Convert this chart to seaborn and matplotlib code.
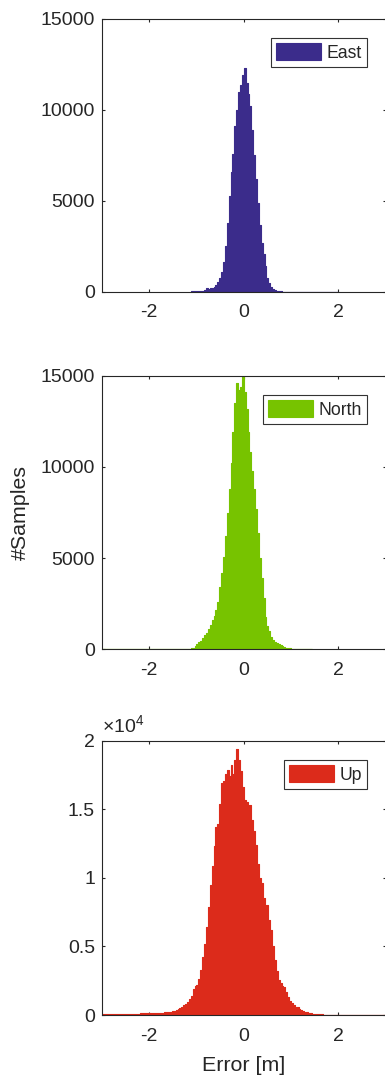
import numpy as np
import pandas as pd
import matplotlib
matplotlib.use("Agg")
import matplotlib.pyplot as plt
from matplotlib.ticker import FuncFormatter
import seaborn as sns

# histogram bin counts (0.04 m bins in the core,
# a few wide bins for the flat tails)
bin_width = 0.04

east_start = -1.12
east_counts = [30, 50, 50, 60, 60, 70, 80, 130, 220, 180, 200, 230, 280, 380,
               550, 780, 1100, 1620, 2500, 3800, 5300, 6600, 7600, 9100, 10000,
               11000, 11400, 11900, 12300, 11500, 10900, 10200, 8900, 7500,
               6200, 4900, 3700, 2700, 2100, 1400, 750, 480, 300, 180, 130, 80,
               60, 40]
east_left_edges, east_left_counts = [], []
east_right_edges, east_right_counts = [2.0], [20]

north_start = -1.16
north_counts = [30, 60, 100, 180, 280, 380, 480, 600, 760, 900, 1100, 1330,
                1600, 1850, 2150, 2600, 3400, 4200, 5070, 6200, 7500, 8800,
                10200, 11900, 13500, 14600, 14200, 14400, 15000, 14100, 13200,
                11900, 10800, 9800, 8800, 7700, 6400, 5000, 3900, 2800, 1800,
                1300, 1000, 700, 530, 420, 330, 270, 230, 170, 120, 90, 70, 50]
north_left_edges, north_left_counts = [-3.0], [10]
north_right_edges, north_right_counts = [1.44], [20]

up_start = -1.80
up_counts = [170, 180, 180, 190, 200, 210, 230, 270, 320, 380, 450, 530, 620,
             700, 800, 950, 1150, 1400, 1900, 2100, 2200, 2600, 3300, 4200,
             5200, 6400, 7900, 9500, 10900, 12300, 13700, 13900, 15400, 16900,
             17100, 17600, 17900, 17400, 18200, 17600, 18600, 19400, 18600,
             17800, 16600,
             15700, 15500, 15000, 15300, 14200, 13400, 12400, 11000, 10000,
             9600, 8500, 7900, 8000, 6900, 6200, 5000, 4000, 3200, 2550, 2300,
             2150, 2050, 1700, 1330, 1050, 850, 720, 620, 560, 450, 370, 300,
             250, 200, 170, 130, 100, 80, 65, 50, 45, 40, 35, 30, 25]
up_left_edges, up_left_counts = [-3.0, -2.6, -2.2], [60, 100, 150]
up_right_edges, up_right_counts = [3.0], [15]

names = ["East", "North", "Up"]
colors = ["#3b2c8b", "#77c300", "#dc2b1b"]


def build(start, counts, left_edges, left_counts, right_edges, right_counts):
    core = start + bin_width * np.arange(len(counts) + 1)
    edges = np.concatenate([left_edges, core, right_edges])
    weights = np.array(left_counts + counts + right_counts, dtype=float)
    centers = (edges[:-1] + edges[1:]) / 2
    return edges.tolist(), pd.DataFrame({"err": centers, "n": weights})


series = [
    build(east_start, east_counts, east_left_edges, east_left_counts,
          east_right_edges, east_right_counts),
    build(north_start, north_counts, north_left_edges, north_left_counts,
          north_right_edges, north_right_counts),
    build(up_start, up_counts, up_left_edges, up_left_counts,
          up_right_edges, up_right_counts),
]

sns.set_theme(style="ticks")
plt.rcParams["font.family"] = ["Liberation Sans", "DejaVu Sans"]
plt.rcParams["mathtext.fontset"] = "custom"
plt.rcParams["mathtext.rm"] = "Liberation Sans"
plt.rcParams["axes.unicode_minus"] = False
dark = "#262626"
plt.rcParams["text.color"] = dark
plt.rcParams["axes.labelcolor"] = dark

fig = plt.figure(figsize=(3.85, 10.79), dpi=100)
boxes = [
    [0.2649, 0.7294, 0.7364, 0.2530],
    [0.2649, 0.3982, 0.7364, 0.2536],
    [0.2649, 0.0593, 0.7364, 0.2542],
]
ylims = [15000, 15000, 20000]

for i, (box, (edges, df)) in enumerate(zip(boxes, series)):
    ax = fig.add_axes(box)
    sns.histplot(data=df, x="err", weights="n", bins=edges, element="step",
                 fill=True, color=colors[i], edgecolor=colors[i], alpha=1,
                 linewidth=0.8, ax=ax, label=names[i])
    ax.set_xlim(-3, 3)
    ax.set_ylim(0, ylims[i])
    ax.set_xticks([-2, 0, 2])
    if i < 2:
        ax.set_yticks([0, 5000, 10000, 15000])
    else:
        ax.set_yticks([0, 5000, 10000, 15000, 20000])
        ax.yaxis.set_major_formatter(FuncFormatter(lambda v, p: f"{v / 1e4:g}"))
        ax.text(0.0, 1.012, "\u00d710$^{4}$", transform=ax.transAxes,
                ha="left", va="bottom", fontsize=14, color=dark)
    ax.tick_params(axis="both", direction="in", top=True, right=True,
                   length=2.5, width=0.8, labelsize=14, colors=dark)
    ax.tick_params(axis="x", pad=9)
    ax.tick_params(axis="y", pad=5)
    for s in ax.spines.values():
        s.set_visible(True)
        s.set_color(dark)
        s.set_linewidth(0.8)
    ax.set_ylabel("")
    ax.set_xlabel("")
    leg = ax.legend(loc="upper right", bbox_to_anchor=(0.935, 0.93),
                    borderaxespad=0, fontsize=12.7, fancybox=False,
                    framealpha=1, edgecolor="#333333", handlelength=2.55,
                    handleheight=1.1, handletextpad=0.3, borderpad=0.3)
    leg.get_frame().set_linewidth(0.8)
    if i == 1:
        ax.set_ylabel("#Samples", fontsize=15.4)
        ax.yaxis.set_label_coords(-0.256, 0.5)
    if i == 2:
        ax.set_xlabel("Error [m]", fontsize=15.4)
        ax.xaxis.set_label_coords(0.5, -0.15)
        ax.xaxis.label.set_va("top")

fig.savefig("out.png", dpi=100)
